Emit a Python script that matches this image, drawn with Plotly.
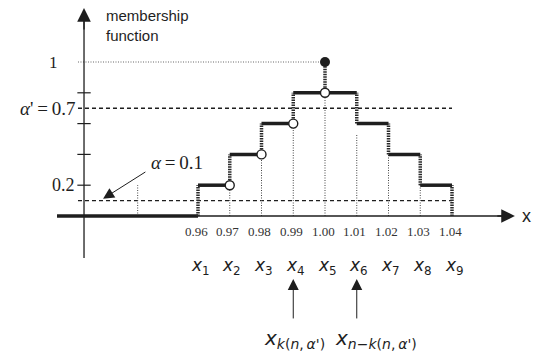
import plotly.graph_objects as go

# ---------------- data ----------------
x_ticks = [0.96, 0.97, 0.98, 0.99, 1.00, 1.01, 1.02, 1.03, 1.04]
tick_labels = ["0.96", "0.97", "0.98", "0.99", "1.00", "1.01", "1.02", "1.03", "1.04"]
x_names = ["1", "2", "3", "4", "5", "6", "7", "8", "9"]

step_start = [0.96, 0.97, 0.98, 0.99, 1.01, 1.02, 1.03]
step_end = [0.97, 0.98, 0.99, 1.01, 1.02, 1.03, 1.04]
step_level = [0.2, 0.4, 0.6, 0.8, 0.6, 0.4, 0.2]

riser_low = [0.0, 0.2, 0.4, 0.6, 0.8, 0.6, 0.4, 0.2, 0.0]
riser_high = [0.2, 0.4, 0.6, 0.8, 1.0, 0.8, 0.6, 0.4, 0.2]

open_x = [0.97, 0.98, 0.99, 1.00]
open_y = [0.2, 0.4, 0.6, 0.8]
peak_x = [1.00]
peak_y = [1.0]

drop_x = [0.941, 0.97, 0.98, 0.99, 1.00, 1.01, 1.02, 1.03]
drop_top = [0.2, 0.2, 0.4, 0.6, 0.8, 0.53, 0.4, 0.2]

y_tick_vals = [0.2, 0.4, 0.6, 0.8]
alpha = 0.1
alpha_prime = 0.7
k_positions = [0.99, 1.01]
k_labels = ["<i>x</i><sub><i>k</i>(<i>n</i>,\u2009<i>α'</i>)</sub>",
            "<i>x</i><sub><i>n</i>−<i>k</i>(<i>n</i>,\u2009<i>α'</i>)</sub>"]
k_shifts = [-31, -24]

# ---------------- layout constants ----------------
X_AXIS_POS = 0.9241      # where the vertical axis stands
X_LEFT = 0.9156          # left end of the horizontal axis
X_GUIDE0 = 0.9222        # start of guide lines
X_RIGHT = 1.0598         # arrow tip of horizontal axis
Y_TOP = 1.3506
Y_BOT = -0.2727
XR = [0.96 - 198 / 3175, 0.96 + 339 / 3175]
YR = [(216 - 360) / 154, 216 / 154]

INK = "#1e1e1e"
GREY = "#444444"
SERIF = "Liberation Serif"
SANS = "Liberation Sans"
ITAL = "DejaVu Sans"

fig = go.Figure()


def seg_trace(xs, ys, width, dash="solid", color=INK):
    fig.add_trace(go.Scatter(x=xs, y=ys, mode="lines",
                             line=dict(color=color, width=width, dash=dash),
                             hoverinfo="skip", showlegend=False))


# guide lines
seg_trace([X_GUIDE0, x_ticks[4]], [1.0, 1.0], 1, "1px,1.5px", "#666666")
seg_trace([X_GUIDE0, x_ticks[-1]], [alpha_prime, alpha_prime], 1.4, "4px,3px", INK)
seg_trace([X_GUIDE0, x_ticks[-1]], [alpha, alpha], 1.4, "4px,3px", INK)

# thin dotted drops
for xv, top in zip(drop_x, drop_top):
    seg_trace([xv, xv], [0, top], 1, "1px,1.5px", GREY)

# axes
seg_trace([X_LEFT, X_RIGHT - 0.004], [0, 0], 1.3, "solid", INK)
seg_trace([X_LEFT, x_ticks[0]], [0, 0], 3.5, "solid", INK)
seg_trace([X_AXIS_POS, X_AXIS_POS], [Y_BOT, Y_TOP - 0.05], 1.3, "solid", INK)
for yv in y_tick_vals:
    seg_trace([X_AXIS_POS - 0.0021, X_AXIS_POS + 0.0021], [yv, yv], 1.2, "solid", INK)

# risers (thick hatched)
for xv, lo, hi in zip(x_ticks, riser_low, riser_high):
    seg_trace([xv, xv], [lo, hi], 3.5, "1.5px,1px", "#2a2a2a")

# steps
for xs, xe, lv in zip(step_start, step_end, step_level):
    seg_trace([xs, xe], [lv, lv], 3.5, "solid", INK)

# circles
fig.add_trace(go.Scatter(x=open_x, y=open_y, mode="markers",
                         marker=dict(size=9, color="white", line=dict(color=INK, width=1.4)),
                         hoverinfo="skip", showlegend=False))
fig.add_trace(go.Scatter(x=peak_x, y=peak_y, mode="markers",
                         marker=dict(size=10, color=INK),
                         hoverinfo="skip", showlegend=False))

ann = []


def arrow(x, y, ax, ay, width, size):
    ann.append(dict(x=x, y=y, ax=ax, ay=ay, xref="x", yref="y", axref="x", ayref="y",
                    text="", showarrow=True, arrowhead=2, arrowsize=size,
                    arrowwidth=width, arrowcolor=INK, standoff=0, startstandoff=0))


arrow(X_AXIS_POS, Y_TOP, X_AXIS_POS, Y_TOP - 0.15, 1.3, 2.1)
arrow(X_RIGHT, 0, X_RIGHT - 0.006, 0, 1.3, 2.1)
arrow(0.9301, 0.112, 0.9439, 0.292, 1.0, 2.2)
for kx in k_positions:
    arrow(kx, -0.409, kx, -0.675, 1.0, 2.2)

# texts
for xv, lab in zip(x_ticks, tick_labels):
    ann.append(dict(x=xv, y=0, xref="x", yref="y", text=lab, showarrow=False,
                    yshift=-15, xshift=-2, font=dict(family=SERIF, size=13, color="#333333")))
for xv, nm in zip(x_ticks, x_names):
    ann.append(dict(x=xv, y=0, xref="x", yref="y", text="<i>x</i><sub>" + nm + "</sub>",
                    showarrow=False, yshift=-50, xshift=2,
                    font=dict(family=ITAL, size=17, color=INK)))
for kx, lab, sh in zip(k_positions, k_labels, k_shifts):
    ann.append(dict(x=kx, y=-0.80, xref="x", yref="y", text=lab, showarrow=False,
                    xanchor="left", xshift=sh, font=dict(family=ITAL, size=20, color=INK)))

ann.append(dict(x=X_AXIS_POS, y=1.0, xref="x", yref="y", text="1", showarrow=False,
                xanchor="right", xshift=-24, font=dict(family=SERIF, size=17, color=INK)))
ann.append(dict(x=X_AXIS_POS, y=alpha_prime, xref="x", yref="y",
                text="<i>α</i>'\u2009=\u20090.7", showarrow=False,
                xanchor="right", xshift=-7, font=dict(family=SERIF, size=19, color=INK)))
ann.append(dict(x=X_AXIS_POS, y=0.2, xref="x", yref="y", text="0.2", showarrow=False,
                xanchor="right", xshift=-7, font=dict(family=SERIF, size=18, color=INK)))
ann.append(dict(x=0.9534, y=0.345, xref="x", yref="y",
                text="<i>α</i>\u2009=\u20090.1", showarrow=False,
                font=dict(family=SERIF, size=19, color=INK)))
ann.append(dict(x=0.9305, y=1.372, xref="x", yref="y",
                text="membership<br>function", showarrow=False, align="left",
                xanchor="left", yanchor="top", font=dict(family=SANS, size=15, color=INK)))
ann.append(dict(x=1.0636, y=0, xref="x", yref="y", text="x", showarrow=False,
                font=dict(family=SANS, size=18, color=INK)))

fig.update_layout(
    width=537, height=360, margin=dict(l=0, r=0, t=0, b=0),
    paper_bgcolor="white", plot_bgcolor="white",
    xaxis=dict(visible=False, range=XR, fixedrange=True),
    yaxis=dict(visible=False, range=YR, fixedrange=True),
    annotations=ann, showlegend=False,
)

fig.write_html("out.html", config={"displayModeBar": False},
               post_script="document.body.style.margin='0';document.body.style.overflow='hidden';")
